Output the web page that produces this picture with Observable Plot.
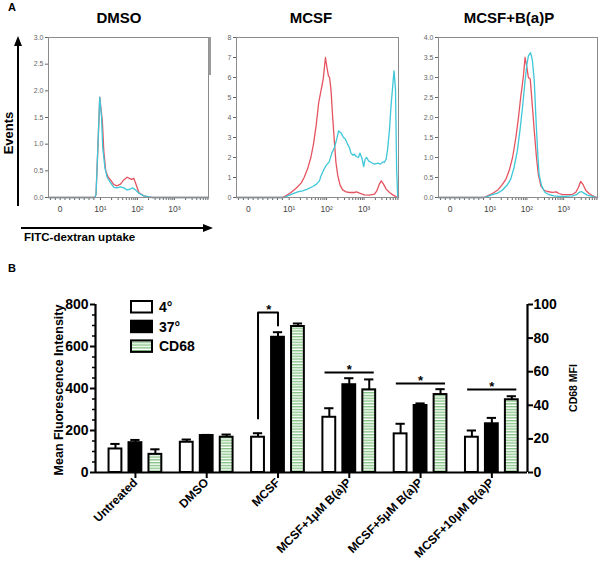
<!DOCTYPE html>
<html><head><meta charset="utf-8">
<script src="https://cdn.jsdelivr.net/npm/d3@7"></script>
<script src="https://cdn.jsdelivr.net/npm/@observablehq/plot@0.6"></script>
<style>
body{margin:0;background:#fff;font-family:"Liberation Sans",Arial,sans-serif}
#root{position:relative;width:600px;height:565px;overflow:hidden;background:#fff}
</style></head><body>
<div id="root">
<svg id="ov" width="600" height="565" style="position:absolute;left:0;top:0;pointer-events:none;z-index:5" font-family="Liberation Sans, Arial, sans-serif" font-weight="bold" fill="#000">
  <defs>
    <pattern id="stripes" patternUnits="userSpaceOnUse" width="4" height="2.8">
      <rect width="4" height="2.8" fill="#ffffff"/>
      <rect width="4" height="1.4" fill="#86c486"/>
    </pattern>
  </defs>
</svg>
</div>
<script>
// ---------- Panel A data: [log10 FITC intensity (logicle display units), events] ----------
const dmsoRed = [[-0.405,0],[0.85,0],[0.88,0.06],[0.93,0.94],[0.98,1.88],[1.05,1.44],[1.09,0.88],[1.14,0.5],[1.21,0.38],[1.27,0.33],[1.36,0.24],[1.45,0.22],[1.54,0.25],[1.63,0.33],[1.72,0.38],[1.78,0.36],[1.84,0.34],[1.9,0.36],[1.96,0.25],[2.04,0.09],[2.17,0.03],[2.31,0.01],[2.4,0],[3.92,0]];
const dmsoCyan = [[-0.405,0],[0.85,0],[0.88,0.06],[0.93,0.94],[0.98,1.88],[1.03,1.5],[1.06,0.94],[1.12,0.56],[1.18,0.38],[1.27,0.28],[1.36,0.19],[1.45,0.18],[1.54,0.2],[1.63,0.18],[1.72,0.14],[1.81,0.16],[1.87,0.18],[1.95,0.14],[2.04,0.08],[2.17,0.03],[2.31,0.01],[2.4,0],[3.92,0]];
const mcsfRed = [[-0.405,0],[0.83,0],[0.91,0.08],[1.05,0.25],[1.18,0.45],[1.32,0.72],[1.4,1.0],[1.49,1.42],[1.58,2.0],[1.65,2.67],[1.72,3.58],[1.79,4.75],[1.85,5.33],[1.91,5.92],[1.97,7.0],[2.01,6.5],[2.05,6.08],[2.08,6.0],[2.12,5.33],[2.16,4.08],[2.21,2.75],[2.25,1.75],[2.3,1.08],[2.36,0.62],[2.43,0.38],[2.52,0.28],[2.61,0.25],[2.74,0.25],[2.8,0.28],[2.88,0.22],[3.01,0.13],[3.14,0.12],[3.28,0.17],[3.34,0.33],[3.41,0.67],[3.46,0.83],[3.52,0.67],[3.59,0.42],[3.68,0.25],[3.77,0.13],[3.86,0.03],[3.92,0]];
const mcsfCyan = [[-0.405,0],[0.87,0],[0.96,0.08],[1.09,0.18],[1.23,0.28],[1.36,0.33],[1.49,0.42],[1.63,0.55],[1.73,0.67],[1.81,0.83],[1.85,1.08],[1.91,1.33],[1.98,1.58],[2.07,1.78],[2.14,2.22],[2.21,2.5],[2.27,2.92],[2.32,3.33],[2.39,3.22],[2.45,3.0],[2.5,2.92],[2.56,2.67],[2.61,2.5],[2.65,2.22],[2.7,2.12],[2.74,2.17],[2.79,2.05],[2.85,2.0],[2.89,2.22],[2.95,1.92],[2.99,1.55],[3.03,1.92],[3.07,2.0],[3.12,1.83],[3.19,1.75],[3.28,1.67],[3.37,1.72],[3.44,1.67],[3.5,1.78],[3.54,1.75],[3.59,1.92],[3.63,2.42],[3.68,3.42],[3.72,4.58],[3.77,5.67],[3.8,6.33],[3.84,5.42],[3.87,1.42],[3.9,0],[3.92,0]];
const bapRed = [[-0.405,0],[0.84,0],[0.93,0.04],[1.06,0.1],[1.2,0.18],[1.33,0.32],[1.43,0.46],[1.52,0.68],[1.61,1.0],[1.7,1.5],[1.77,2.0],[1.83,2.5],[1.9,3.0],[1.95,3.5],[2.0,3.25],[2.04,3.0],[2.09,2.96],[2.13,2.5],[2.2,1.67],[2.26,1.0],[2.31,0.58],[2.38,0.29],[2.47,0.18],[2.56,0.15],[2.69,0.13],[2.8,0.14],[2.87,0.1],[2.97,0.07],[3.1,0.07],[3.24,0.08],[3.33,0.13],[3.4,0.25],[3.46,0.4],[3.53,0.32],[3.6,0.18],[3.69,0.1],[3.78,0.05],[3.89,0],[3.92,0]];
const bapCyan = [[-0.405,0],[0.84,0],[0.93,0.03],[1.06,0.07],[1.2,0.11],[1.33,0.18],[1.47,0.32],[1.56,0.46],[1.65,0.75],[1.74,1.17],[1.81,1.67],[1.88,2.25],[1.95,2.92],[2.0,3.33],[2.04,3.54],[2.1,3.62],[2.15,3.42],[2.2,2.92],[2.24,2.08],[2.29,1.17],[2.33,0.58],[2.4,0.29],[2.49,0.13],[2.6,0.07],[2.74,0.04],[2.87,0.03],[3.06,0.03],[3.24,0.04],[3.35,0.07],[3.42,0.13],[3.48,0.15],[3.55,0.11],[3.64,0.06],[3.78,0.03],[3.89,0],[3.92,0]];

const panelTitles = ["DMSO", "MCSF", "MCSF+B(a)P"];
const xDomainA = [-0.405, 3.92];
const decadeTicks = [-0.09, 1, 2, 3];
const decadeLabels = ["0", "10\u00B9", "10\u00B2", "10\u00B3"];
const linearMinorTicks = [-0.35,-0.22,-0.09,0.04,0.17,0.3,0.43,0.56,0.69,0.82];
const logMultiples = [1,2,3,4,5,6,7,8,9];
const dmsoYTicks = [0,0.5,1,1.5,2,2.5,3];
const mcsfYTicks = [0,1,2,3,4,5,6,7,8];
const bapYTicks = [0,0.5,1,1.5,2,2.5,3,3.5,4];

// ---------- Panel B data ----------
const groups = ["Untreated","DMSO","MCSF","MCSF+1\u03BCM B(a)P","MCSF+5\u03BCM B(a)P","MCSF+10\u03BCM B(a)P"];
const series = ["4\u00B0","37\u00B0","CD68"];
const mfi4 = [112,144,168,263,184,168];
const mfi4Err = [24,13,19,43,48,32];
const mfi37 = [142,176,644,418,319,232];
const mfi37Err = [13,3,24,31,10,28];
const cd68Mfi = [10.8,21,86.9,49.2,46.4,43.3];      // right axis (CD68 MFI)
const cd68Err = [3.0,1.6,1.8,6.2,3.2,2.1];
const leftTicks = [0,200,400,600,800];
const rightTicks = [0,20,40,60,80,100];
const sigLines = [{g:3, y:476}, {g:4, y:424}, {g:5, y:395}];   // level in left-axis units
const mcsfBracket = {g:2, y:762, yFrom:257, yTo:700};

const RED = "#e5535f", CYAN = "#3ec7d8";
const root = document.getElementById("root");
function place(el, left, top){ el.style.position="absolute"; el.style.left=left+"px"; el.style.top=top+"px"; root.insertBefore(el, document.getElementById("ov")); }

const minorTicksA = linearMinorTicks.concat([1,2,3].flatMap(k => logMultiples.map(m => k + Math.log10(m)))).filter(u => u < xDomainA[1]);

function histogram(red, cyan, yMax, yTicks, yFmt, left, width, mL, mR){
  const p = Plot.plot({
    width, height: 225, marginLeft: mL, marginRight: mR, marginTop: 37, marginBottom: 28,
    style: {background: "transparent", overflow: "visible", fontFamily: "Liberation Sans, Arial, sans-serif"},
    x: {domain: xDomainA, axis: null},
    y: {domain: [0, yMax], axis: null},
    marks: [
      Plot.axisY(yTicks, {tickSize: 3, tickPadding: 2, color: "#666", fontSize: 7, tickFormat: yFmt, label: null}),
      Plot.axisX(minorTicksA, {tickSize: 3, color: "#666", tickFormat: () => "", label: null}),
      Plot.axisX(decadeTicks, {tickSize: 0, tickPadding: 8, color: "#444", fontSize: 8.5, tickFormat: d => decadeLabels[decadeTicks.indexOf(d)], label: null}),
      Plot.line(red, {x: d => d[0], y: d => d[1], stroke: RED, strokeWidth: 1.3}),
      Plot.line(cyan, {x: d => d[0], y: d => d[1], stroke: CYAN, strokeWidth: 1.3}),
      Plot.frame({stroke: "#8c8c8c"})
    ]
  });
  place(p, left, 0);
}
histogram(dmsoRed, dmsoCyan, 3, dmsoYTicks, d => d.toFixed(1), 0, 212, 48, 4);
histogram(mcsfRed, mcsfCyan, 8, mcsfYTicks, d => String(d), 200, 202, 36, 4);
histogram(bapRed, bapCyan, 4, bapYTicks, d => d.toFixed(1), 400, 200, 38, 3);

// ---------- Panel B plot ----------
const CD68_SCALE = leftTicks[leftTicks.length-1] / rightTicks[rightTicks.length-1];
const xDomainB = [-0.56, 5.5];
const offset = {"4\u00B0": -0.28, "37\u00B0": 0, "CD68": 0.28};
const HW = 0.09, CAP = 0.065;
const rows = groups.flatMap((g, i) => [
  {i, s: series[0], v: mfi4[i], e: mfi4Err[i]},
  {i, s: series[1], v: mfi37[i], e: mfi37Err[i]},
  {i, s: series[2], v: cd68Mfi[i]*CD68_SCALE, e: cd68Err[i]*CD68_SCALE}
]);
const cx = d => d.i + offset[d.s];
const bracketPts = [
  {x: mcsfBracket.g + offset[series[0]], y: mcsfBracket.yFrom},
  {x: mcsfBracket.g + offset[series[0]], y: mcsfBracket.y},
  {x: mcsfBracket.g + offset[series[1]], y: mcsfBracket.y},
  {x: mcsfBracket.g + offset[series[1]], y: mcsfBracket.yTo}
];
const stars = [{x: mcsfBracket.g - 0.13, y: mcsfBracket.y}].concat(sigLines.map(d => ({x: d.g, y: d.y})));
const barMark = (s, fill) => Plot.rectY(rows.filter(d => d.s === s), {x1: d => cx(d) - HW, x2: d => cx(d) + HW, y: "v", fill, stroke: "#000", strokeWidth: 2});

const pb = Plot.plot({
  width: 600, height: 285, marginLeft: 95, marginRight: 73, marginTop: 24, marginBottom: 93,
  style: {background: "transparent", overflow: "visible", fontFamily: "Liberation Sans, Arial, sans-serif", fontWeight: "bold", color: "#000"},
  x: {domain: xDomainB, axis: null},
  y: {domain: [0, 800], axis: null},
  marks: [
    Plot.ruleX(rows, {x: cx, y1: "v", y2: d => d.v + d.e, strokeWidth: 2}),
    Plot.ruleY(rows, {x1: d => cx(d) - CAP, x2: d => cx(d) + CAP, y: d => d.v + d.e, strokeWidth: 2}),
    barMark(series[0], "#fff"),
    barMark(series[1], "#000"),
    barMark(series[2], "url(#stripes)"),
    Plot.ruleY([0], {strokeWidth: 2.2}),
    Plot.ruleX([xDomainB[0], xDomainB[1]], {strokeWidth: 2.2}),
    Plot.axisY(leftTicks, {tickSize: 5, tickPadding: 2, strokeWidth: 2, fontSize: 14, label: null}),
    Plot.axisY(d3.range(50, 800, 50).filter(v => v % 200 !== 0), {tickSize: 3, strokeWidth: 1.5, tickFormat: () => "", label: null}),
    Plot.axisY(rightTicks.map(v => v * CD68_SCALE), {anchor: "right", tickSize: 5, tickPadding: 1, strokeWidth: 2, fontSize: 14, tickFormat: d => d / CD68_SCALE, label: null}),
    Plot.axisX(d3.range(groups.length), {tickSize: 6, tickPadding: 2, strokeWidth: 2, fontSize: 12, tickRotate: -45, tickFormat: i => groups[i], label: null}),
    Plot.line(bracketPts, {x: "x", y: "y", strokeWidth: 2}),
    Plot.ruleY(sigLines, {x1: d => d.g - 0.34, x2: d => d.g + 0.35, y: "y", strokeWidth: 2}),
    Plot.text(stars, {x: "x", y: "y", text: () => "*", fontSize: 13, lineAnchor: "middle", dy: -3})
  ]
});
place(pb, 0, 280);

// ---------- Annotations (titles, arrows, legend, axis titles) ----------
const ov = d3.select("#ov");
ov.append("text").attr("x", 8).attr("y", 11).attr("font-size", 11).text("A");
ov.append("text").attr("x", 8).attr("y", 272).attr("font-size", 11).text("B");
[[119, panelTitles[0]], [311, panelTitles[1]], [509, panelTitles[2]]].forEach(([x, t]) =>
  ov.append("text").attr("x", x).attr("y", 23).attr("font-size", 15).attr("text-anchor", "middle").text(t));
ov.append("rect").attr("x", 208.5).attr("y", 37).attr("width", 2.5).attr("height", 38).attr("fill", "#9a9a9a");
// arrows
ov.append("line").attr("x1", 18).attr("y1", 206).attr("x2", 18).attr("y2", 44).attr("stroke", "#000").attr("stroke-width", 2);
ov.append("polygon").attr("points", "18,36 14,46 22,46").attr("fill", "#000");
ov.append("line").attr("x1", 21).attr("y1", 228).attr("x2", 205).attr("y2", 228).attr("stroke", "#000").attr("stroke-width", 2);
ov.append("polygon").attr("points", "213,228 203,224 203,232").attr("fill", "#000");
ov.append("text").attr("transform", "translate(12.5,133) rotate(-90)").attr("text-anchor", "middle").attr("font-size", 13).text("Events");
ov.append("text").attr("x", 24).attr("y", 241).attr("font-size", 11.5).text("FITC-dextran uptake");
// axis titles
ov.append("text").attr("transform", "translate(63,390) rotate(-90)").attr("text-anchor", "middle").attr("font-size", 12.5).text("Mean Fluorescence Intensity");
ov.append("text").attr("transform", "translate(577,388) rotate(-90)").attr("text-anchor", "middle").attr("font-size", 10.5).text("CD68 MFI");
// legend
const legFill = ["#fff", "#000", "url(#stripes)"];
series.forEach((s, k) => {
  const y = 301 + k * 19.7;
  ov.append("rect").attr("x", 131).attr("y", y).attr("width", 21).attr("height", 11.5).attr("fill", legFill[k]).attr("stroke", "#000").attr("stroke-width", 2);
  ov.append("text").attr("x", 159).attr("y", y + 11).attr("font-size", 14).text(s);
});
</script>
</body></html>
